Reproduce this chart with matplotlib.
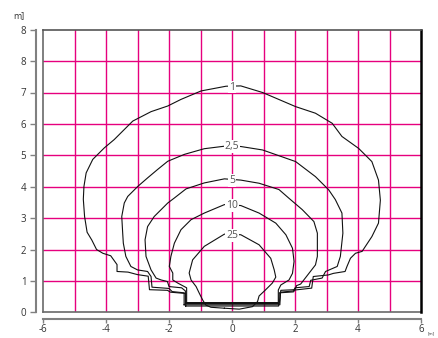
import matplotlib
matplotlib.use('Agg')
import matplotlib.pyplot as plt

# isolux lines (x, y in m)
c1_x = [-1.47, -1.47, -1.95, -2.05, -2.62, -2.66, -3.0, -3.3, -3.65, -3.65, -3.85, -4.1, -4.3, -4.45, -4.6, -4.68, -4.72, -4.70, -4.63, -4.42, -4.05, -3.74, -3.42, -3.15, -2.57, -2.04, -1.62, -0.98, -0.19, 0.28, 0.97, 2.02, 2.65, 3.18, 3.49, 4.02, 4.44, 4.65, 4.71, 4.65, 4.44, 4.13, 3.92, 3.76, 3.65, 3.59, 3.22, 3.06, 2.58, 2.53, 2.0, 1.95, 1.5, 1.48, -1.47]
c1_y = [0.20, 0.60, 0.64, 0.70, 0.72, 1.15, 1.20, 1.28, 1.30, 1.52, 1.80, 1.88, 2.0, 2.3, 2.55, 3.05, 3.6, 4.01, 4.44, 4.87, 5.24, 5.50, 5.82, 6.09, 6.39, 6.57, 6.78, 7.05, 7.2, 7.21, 7.0, 6.55, 6.34, 6.02, 5.6, 5.22, 4.8, 4.21, 3.57, 2.84, 2.41, 1.94, 1.88, 1.72, 1.46, 1.30, 1.24, 1.19, 1.14, 0.77, 0.71, 0.65, 0.62, 0.20, 0.20]

c25_x = [-1.52, -1.52, -1.9, -2.0, -2.54, -2.57, -2.68, -3.0, -3.21, -3.37, -3.45, -3.47, -3.50, -3.42, -3.31, -2.99, -2.68, -2.36, -2.04, -1.51, -0.88, -0.24, 0.28, 0.97, 2.02, 2.65, 3.07, 3.28, 3.49, 3.52, 3.44, 3.34, 2.97, 2.86, 2.5, 2.45, 2.0, 1.95, 1.54, 1.52, -1.52]
c25_y = [0.24, 0.62, 0.66, 0.76, 0.80, 1.14, 1.30, 1.35, 1.46, 1.78, 2.2, 2.52, 3.05, 3.48, 3.69, 4.01, 4.28, 4.55, 4.81, 5.03, 5.21, 5.29, 5.28, 5.17, 4.8, 4.32, 3.9, 3.59, 3.16, 2.52, 1.78, 1.46, 1.30, 1.09, 1.02, 0.82, 0.78, 0.68, 0.64, 0.24, 0.24]

c5_x = [-1.48, -1.48, -1.6, -2.0, -2.05, -2.25, -2.41, -2.57, -2.73, -2.76, -2.68, -2.47, -2.04, -1.83, -1.46, -0.88, -0.24, 0.28, 0.86, 1.49, 1.81, 2.23, 2.6, 2.71, 2.71, 2.65, 2.28, 2.18, 2.05, 2.0, 1.55, 1.50, -1.48]
c5_y = [0.28, 0.68, 0.78, 0.82, 0.98, 1.03, 1.09, 1.35, 1.78, 2.31, 2.73, 3.05, 3.48, 3.64, 3.93, 4.12, 4.25, 4.21, 4.11, 3.91, 3.63, 3.27, 2.89, 2.52, 1.78, 1.51, 1.03, 0.90, 0.85, 0.72, 0.70, 0.28, 0.28]

c10_x = [-1.44, -1.44, -1.72, -1.88, -1.88, -1.99, -1.94, -1.83, -1.62, -1.30, -0.88, -0.24, 0.28, 0.86, 1.39, 1.71, 1.92, 1.97, 1.92, 1.81, 1.55, 1.47, 1.47, -1.44]
c10_y = [0.31, 0.78, 0.93, 1.03, 1.25, 1.46, 1.78, 2.20, 2.63, 2.95, 3.16, 3.43, 3.40, 3.16, 2.84, 2.47, 2.04, 1.62, 1.24, 1.03, 0.87, 0.71, 0.31, 0.31]

c250_x = [-0.24, -0.67, -0.83, -0.93, -1.04, -1.14, -1.30, -1.36, -1.25, -0.88, -0.24, 0.28, 0.86, 1.23, 1.34, 1.39, 1.28, 1.05, 0.86, 0.81, 0.65, 0.23, -0.24]
c250_y = [0.13, 0.16, 0.23, 0.39, 0.61, 0.82, 1.03, 1.25, 1.67, 2.10, 2.49, 2.47, 2.15, 1.72, 1.35, 1.12, 0.93, 0.70, 0.52, 0.34, 0.18, 0.10, 0.13]

levels = ['1', '2,5', '5', '10', '25']
label_y = [7.17, 5.28, 4.19, 3.40, 2.44]

x_ticks = [-6, -4, -2, 0, 2, 4, 6]
y_ticks = [0, 1, 2, 3, 4, 5, 6, 7, 8, 9]
y_ticklabels = ['0', '1', '2', '3', '4', '5', '6', '7', '8', '8']

plt.rcParams['font.family'] = ['Open Sans', 'DejaVu Sans']

fig = plt.figure(figsize=(4.38, 3.38), dpi=100)
ax = fig.add_axes([43/438, 1-312.3/338, 378/438, 282.6/338])
ax.set_xlim(-6, 6)
ax.set_ylim(0, 9)

pink = '#e6007e'
for gx in range(-5, 6):
	ax.axvline(gx, color=pink, lw=1.0, zorder=1)
for gy in range(1, 9):
	ax.axhline(gy, color=pink, lw=1.0, zorder=1)

# frame of the plot area
ax.axvline(-6, color='#6a6a6a', lw=1.2, zorder=2, clip_on=False)
ax.axhline(0, color='#6a6a6a', lw=1.2, zorder=2, clip_on=False)
ax.spines['top'].set_color('#555555')
ax.spines['top'].set_linewidth(1.2)
ax.spines['right'].set_color('black')
ax.spines['right'].set_linewidth(1.8)

# detached axes
ax.spines['left'].set_position(('outward', 5))
ax.spines['bottom'].set_position(('outward', 4.5))
for s in ['left', 'bottom']:
	ax.spines[s].set_color('#808080')
	ax.spines[s].set_linewidth(1.5)

lines = [(c1_x, c1_y), (c25_x, c25_y), (c5_x, c5_y), (c10_x, c10_y), (c250_x, c250_y)]
for (xs, ys) in lines:
	ax.plot(xs, ys, color='#111111', lw=0.8, zorder=3)

for lab, ly in zip(levels, label_y):
	ax.text(0, ly, lab, ha='center', va='center', fontsize=7.5, color='#555555', zorder=4,
		bbox=dict(facecolor='white', edgecolor='none', pad=0.6))

ax.set_xticks(x_ticks)
ax.set_xticklabels([str(v) for v in x_ticks])
ax.set_yticks(y_ticks)
ax.set_yticklabels(y_ticklabels)
ax.tick_params(direction='out', length=4, width=1, color='#808080', labelsize=7, labelcolor='#333333', pad=3)
ax.tick_params(axis='x', length=3, pad=1.2)

fig.text(13/438, 1-16/338, 'm]', fontsize=6.5, color='#333333', va='center', ha='left')
fig.text(427.5/438, 1-333/338, '[m]', fontsize=3.2, color='#333333', va='center', ha='left')

fig.savefig('out.png', dpi=100)
